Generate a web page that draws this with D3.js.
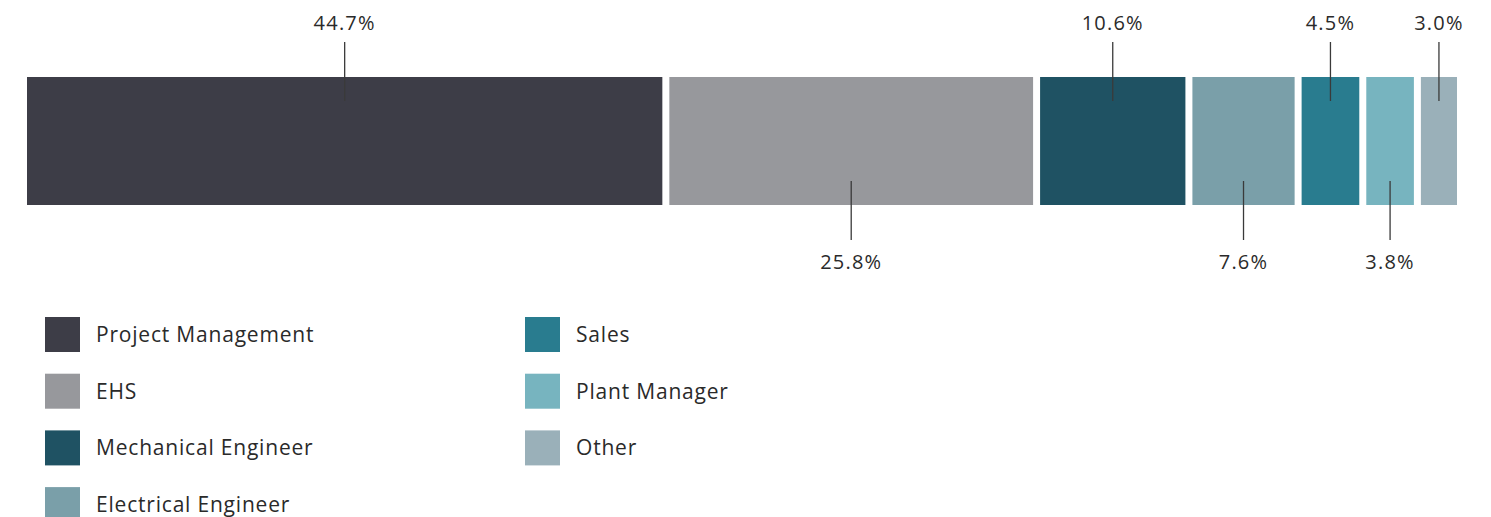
<!DOCTYPE html>
<html>
<head>
<meta charset="utf-8">
<script src="https://cdn.jsdelivr.net/npm/d3@7/dist/d3.min.js"></script>
<style>
  html, body { margin: 0; padding: 0; background: #fff; }
  svg { display: block; }
  text { font-family: "Open Sans", "Noto Sans", sans-serif; fill: #2a2a2a; }
</style>
</head>
<body>
<svg id="chart" width="1491" height="517"></svg>
<script>
// Share of respondents by job role (percent)
const categories = ["Project Management", "EHS", "Mechanical Engineer", "Electrical Engineer", "Sales", "Plant Manager", "Other"];
const shares = [44.7, 25.8, 10.6, 7.6, 4.5, 3.8, 3.0];
const colors = ["#3d3d47", "#97989c", "#1f5263", "#7a9fa9", "#297c8f", "#77b4bf", "#9ab0b9"];
// Legend layout: first column holds four entries, second holds the rest
const legendColumns = [[0, 1, 2, 3], [4, 5, 6]];

const svg = d3.select("#chart");

const x = d3.scaleLinear().domain([0, 100]).range([23.5, 1460.5]);
const barTop = 77, barBottom = 205, gap = 3.5;

let acc = 0;
const segs = shares.map((v, i) => {
  const s = { name: categories[i], value: v, start: acc, end: acc + v, color: colors[i], up: i % 2 === 0 };
  acc += v;
  return s;
});

// Stacked segments
svg.append("g").selectAll("rect").data(segs).join("rect")
  .attr("x", d => x(d.start) + gap)
  .attr("y", barTop)
  .attr("width", d => x(d.end) - x(d.start) - 2 * gap)
  .attr("height", barBottom - barTop)
  .attr("fill", d => d.color);

// Leader lines and value labels, alternating above and below the bar
const lab = svg.append("g");
segs.forEach(d => {
  const cx = (x(d.start) + x(d.end)) / 2;
  const y1 = d.up ? 42 : 181, y2 = d.up ? 101 : 240, ty = d.up ? 30 : 269;
  lab.append("line").attr("x1", cx).attr("x2", cx).attr("y1", y1).attr("y2", y2)
    .attr("stroke", "#3a3a3a").attr("stroke-width", 1.3);
  lab.append("text").attr("x", cx).attr("y", ty).attr("text-anchor", "middle")
    .attr("font-size", 20).attr("letter-spacing", 1.2)
    .text(d.value.toFixed(1) + "%");
});

// Legend
const legend = svg.append("g");
const colX = [45, 525], rowY0 = 317, rowStep = 56.7, sw = 35;
legendColumns.forEach((col, ci) => {
  col.forEach((idx, ri) => {
    const y = rowY0 + ri * rowStep;
    legend.append("rect").attr("x", colX[ci]).attr("y", y).attr("width", sw).attr("height", sw)
      .attr("fill", colors[idx]);
    legend.append("text").attr("x", colX[ci] + 51).attr("y", y + 25)
      .attr("font-size", 21).attr("letter-spacing", 0.8).text(categories[idx]);
  });
});
</script>
</body>
</html>
